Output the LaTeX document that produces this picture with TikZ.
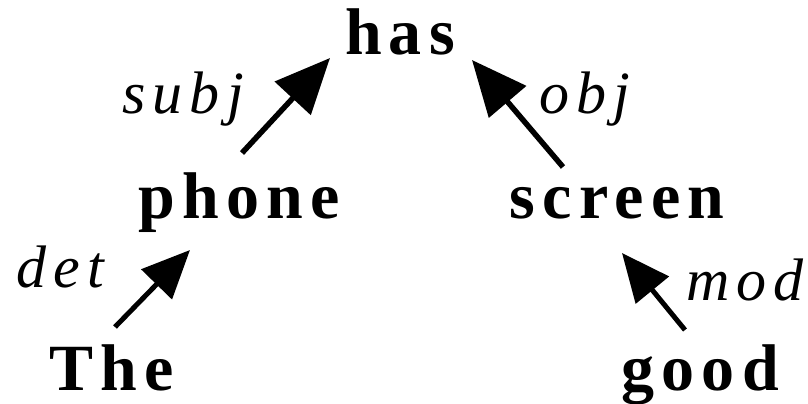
\documentclass[tikz,border=0pt]{standalone}
\usepackage{fontspec}
\setmainfont{Liberation Serif}
\newfontfamily\wordfont[LetterSpace=11]{Liberation Serif Bold}
\newfontfamily\relfont[LetterSpace=12]{Liberation Serif Italic}
\usetikzlibrary{arrows.meta}
\tikzset{
  word/.style={font=\wordfont\fontsize{66pt}{66pt}\selectfont, anchor=base, inner sep=0pt},
  rel/.style={font=\relfont\fontsize{60pt}{60pt}\selectfont, anchor=base, inner sep=0pt},
  dep/.style={line width=5.5pt, -{Triangle[length=55pt,width=48pt]}},
  depsmall/.style={line width=5pt, -{Triangle[length=48pt,width=42pt]}}
}
\begin{document}
\begin{tikzpicture}[x=1pt,y=-1pt]
\useasboundingbox (0,0) rectangle (808,404);
\node[word] (has) at (400,55) {has};
\node[word] (phone) at (239,218) {phone};
\node[word] (screen) at (617,218) {screen};
\node[word] (the) at (112,390) {The};
\node[word] (good) at (700,390) {good};
\node[rel] (subj) at (183,113) {subj};
\node[rel] (obj) at (585,113) {obj};
\node[rel] (det) at (60,287) {det};
\node[rel] (mod) at (745,300) {mod};
\coordinate (subjS) at (242,153);
\coordinate (subjE) at (330,58);
\coordinate (objS) at (563,167);
\coordinate (objE) at (472,60);
\coordinate (detS) at (115,327);
\coordinate (detE) at (190,250);
\coordinate (modS) at (685,330);
\coordinate (modE) at (622,253);
\draw[dep] (subjS) -- (subjE);
\draw[dep] (objS) -- (objE);
\draw[depsmall] (detS) -- (detE);
\draw[depsmall] (modS) -- (modE);
\end{tikzpicture}
\end{document}
